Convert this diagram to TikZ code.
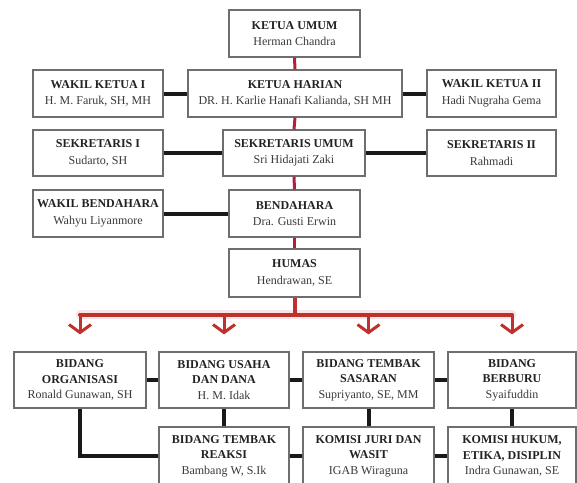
\documentclass[tikz,border=0pt]{standalone}
\usepackage{fontspec}
\setmainfont{Liberation Serif}
\usetikzlibrary{arrows.meta,shadows,calc}
\definecolor{boxline}{HTML}{6E6E6E}
\definecolor{txt}{HTML}{222222}
\definecolor{nametxt}{HTML}{3A3A3A}
\definecolor{crim}{HTML}{B0203C}
\definecolor{busred}{HTML}{C0302C}
\tikzset{
  box/.style={draw=boxline, line width=1.2pt, fill=white, inner sep=0pt,
    align=center, text=txt,
    drop shadow={shadow xshift=1pt, shadow yshift=-1.2pt, opacity=0.25, fill=black!40},
    font=\fontsize{12}{16.5}\selectfont},
  box3/.style={box, font=\fontsize{12}{15.5}\selectfont},
  blk/.style={line width=4pt, draw=black!90},
  redcon/.style={line width=3pt, draw=crim},
  glow/.style={line width=9pt, draw=busred!12, line cap=round},
  bus/.style={line width=4pt, draw=busred},
  redarrow/.style={line width=3pt, draw=busred, -{Straight Barb[length=8pt,width=22pt,line width=3pt]}},
}
\newcommand{\ttl}[1]{\textbf{#1}}
\newcommand{\nm}[1]{\textcolor{nametxt}{#1}}
\begin{document}
\begin{tikzpicture}[x=1pt,y=-1pt]
\useasboundingbox (0,0) rectangle (577,482);
\clip (0,0) rectangle (577,482);
% top column
\node[box, minimum width=131pt, minimum height=47pt] (ku) at (294.5,33.5) {\ttl{KETUA UMUM}\\\nm{Herman Chandra}};
\node[box, minimum width=214pt, minimum height=47pt] (kh) at (295,93.5) {\ttl{KETUA HARIAN}\\\nm{DR. H. Karlie Hanafi Kalianda, SH MH}};
\node[box, minimum width=130pt, minimum height=47pt] (wk1) at (98,93.5) {\ttl{WAKIL KETUA I}\\\nm{H. M. Faruk, SH, MH}};
\node[box, minimum width=129pt, minimum height=47pt] (wk2) at (491.5,93.5) {\ttl{WAKIL KETUA II}\\\nm{Hadi Nugraha Gema}};
\node[box, minimum width=142pt, minimum height=46pt] (su) at (294,153) {\ttl{SEKRETARIS UMUM}\\\nm{Sri Hidajati Zaki}};
\node[box, minimum width=130pt, minimum height=46pt] (s1) at (98,153) {\ttl{SEKRETARIS I}\\\nm{Sudarto, SH}};
\node[box, minimum width=129pt, minimum height=46pt] (s2) at (491.5,153) {\ttl{SEKRETARIS II}\\\nm{Rahmadi}};
\node[box, minimum width=131pt, minimum height=47pt] (bd) at (294.5,213.5) {\ttl{BENDAHARA}\\\nm{Dra. Gusti Erwin}};
\node[box, minimum width=130pt, minimum height=47pt] (wb) at (98,213.5) {\ttl{WAKIL BENDAHARA}\\\nm{Wahyu Liyanmore}};
\node[box, minimum width=131pt, minimum height=48pt] (hm) at (294.5,273) {\ttl{HUMAS}\\\nm{Hendrawan, SE}};
% bidang rows
\node[box3, minimum width=132pt, minimum height=56pt] (org) at (80,380) {\ttl{BIDANG}\\\ttl{ORGANISASI}\\\nm{Ronald Gunawan, SH}};
\node[box3, minimum width=130pt, minimum height=56pt] (usa) at (224,380) {\ttl{BIDANG USAHA}\\\ttl{DAN DANA}\\\nm{H. M. Idak}};
\node[box3, minimum width=131pt, minimum height=56pt] (sas) at (368.5,380) {\ttl{BIDANG TEMBAK}\\\ttl{SASARAN}\\\nm{Supriyanto, SE, MM}};
\node[box3, minimum width=128pt, minimum height=56pt] (ber) at (512,380) {\ttl{BIDANG}\\\ttl{BERBURU}\\\nm{Syaifuddin}};
\node[box3, minimum width=130pt, minimum height=58pt] (rea) at (224,456) {\ttl{BIDANG TEMBAK}\\\ttl{REAKSI}\\\nm{Bambang W, S.Ik}};
\node[box3, minimum width=131pt, minimum height=58pt] (jur) at (368.5,456) {\ttl{KOMISI JURI DAN}\\\ttl{WASIT}\\\nm{IGAB Wiraguna}};
\node[box3, minimum width=128pt, minimum height=58pt] (huk) at (512,456) {\ttl{KOMISI HUKUM,}\\\ttl{ETIKA, DISIPLIN}\\\nm{Indra Gunawan, SE}};
% connectors
\draw[redcon] (ku.south) -- (kh.north);
\draw[redcon] (kh.south) -- (su.north);
\draw[redcon] (su.south) -- (bd.north);
\draw[redcon] (bd.south) -- (hm.north);
\draw[blk] (wk1.east) -- (kh.west);
\draw[blk] (kh.east) -- (wk2.west);
\draw[blk] (s1.east) -- (su.west);
\draw[blk] (su.east) -- (s2.west);
\draw[blk] (wb.east) -- (bd.west);
\draw[blk] (org.east) -- (usa.west);
\draw[blk] (usa.east) -- (sas.west);
\draw[blk] (sas.east) -- (ber.west);
\draw[blk] (usa.south) -- (rea.north);
\draw[blk] (sas.south) -- (jur.north);
\draw[blk] (ber.south) -- (huk.north);
\draw[blk] (org.south) |- (rea.west);
\draw[blk] (rea.east) -- (jur.west);
\draw[blk] (jur.east) -- (huk.west);
% red bus with arrows
\coordinate (busc) at ($(hm.south)+(0,17)$);
\draw[glow] (busc -| org.north) -- (busc -| ber.north);
\draw[bus] (hm.south) -- (busc);
\draw[bus, line cap=round] (busc -| org.north) -- (busc -| ber.north);
\draw[redarrow] (busc -| org.north) -- ([yshift=17pt]org.north);
\draw[redarrow] (busc -| usa.north) -- ([yshift=17pt]usa.north);
\draw[redarrow] (busc -| sas.north) -- ([yshift=17pt]sas.north);
\draw[redarrow] (busc -| ber.north) -- ([yshift=17pt]ber.north);
\end{tikzpicture}
\end{document}
